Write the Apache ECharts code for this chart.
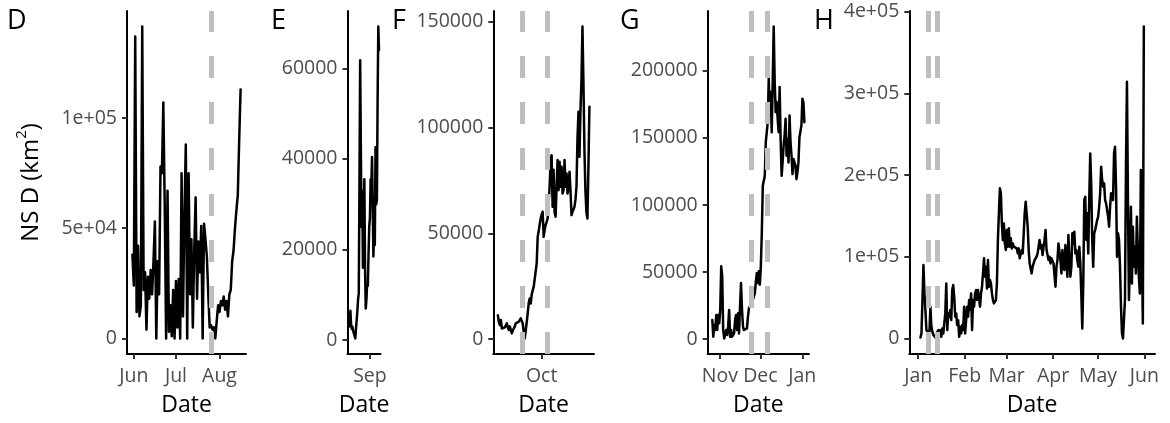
<!DOCTYPE html>
<html>
<head>
<meta charset="utf-8">
<script src="https://cdn.jsdelivr.net/npm/echarts@6/dist/echarts.min.js"></script>
<style>
  html, body { margin: 0; padding: 0; background: #fff; }
  #chart { width: 1170px; height: 423px; }
</style>
</head>
<body>
<div id="chart"></div>
<script>
// ---- Data: net squared displacement (km^2) per tracking period ----

// D: 31 May - 16 Aug 2018, daily fixes
const dStart = '2018-05-31T00:00:00Z';
const dStepHours = 24;
const dValues = [38000, 24000, 137000, 12000, 42000, 10000, 15000, 141500, 22000, 30000,
  4000, 28000, 18000, 31000, 20000, 35000, 53000, 0, 35000, 20000,
  78000, 75000, 107000, 60000, 0, 67000, 3000, 15000, 1000, 22000,
  0, 26000, 5000, 27000, 0, 75000, 10000, 55000, 88000, 0,
  75000, 20000, 45000, 5000, 40000, 64000, 18000, 44000, 30000, 51000,
  0, 52000, 45000, 37000, 20000, 5000, 6000, 4000, 5000, 0,
  8000, 15000, 12000, 17000, 15000, 19000, 13000, 17000, 10000, 20000,
  22000, 35000, 40000, 50000, 58000, 65000, 90000, 113000];
const dEvents = ['2018-07-26T00:00:00Z'];
const dMonthTicks = ['2018-06-01T00:00:00Z', '2018-07-01T00:00:00Z', '2018-08-01T00:00:00Z'];
const dYTicks = [0, 50000, 100000];
const dYLabels = ['0', '5e+04', '1e+05'];

// E: 17 Aug - 7 Sep 2018, 12-hourly fixes
const eStart = '2018-08-17T00:00:00Z';
const eStepHours = 12;
const eValues = [3000, 4000, 6500, 3500, 2500, 3000, 2000, 1500, 1000, 400,
  2500, 4400, 6500, 9000, 10300, 35000, 61800, 42000, 25000, 33000,
  16000, 24000, 35500, 16000, 7000, 9000, 12500, 12000, 19000, 25000,
  27000, 35500, 34000, 40400, 30000, 18500, 25000, 21000, 42600, 30000,
  31000, 52900, 69200, 64000];
const eEvents = [];
const eMonthTicks = ['2018-09-01T00:00:00Z'];
const eYTicks = [0, 20000, 40000, 60000];
const eYLabels = ['0', '20000', '40000', '60000'];

// F: 9 Sep - 25 Oct 2018, 12-hourly fixes
const fStart = '2018-09-09T00:00:00Z';
const fStepHours = 12;
const fValues = [11300, 8000, 6600, 9000, 5000, 4500, 4300, 5500, 5800, 7400,
  5500, 4300, 6000, 6600, 2700, 4000, 5000, 6000, 7400, 7000,
  8000, 8200, 9000, 9800, 8500, 7400, 3000, 300, 1100, 8000,
  12100, 17000, 19200, 16800, 21000, 23100, 24700, 25000, 25500, 35700,
  48300, 51000, 54000, 57000, 59000, 60200, 48300, 51500, 54000, 55400,
  57000, 57800, 72000, 84600, 86900, 62500, 80000, 60000, 57800, 72000,
  84600, 70400, 83800, 72000, 81400, 68800, 70400, 84600, 72000, 78300,
  68800, 72000, 79100, 70000, 58600, 60200, 61000, 62500, 66000, 72000,
  95000, 107400, 86200, 108200, 122400, 147700, 120800, 89300, 70000, 60000,
  57000, 81400, 109800];
const fEvents = ['2018-09-21T00:00:00Z', '2018-10-04T00:00:00Z'];
const fMonthTicks = ['2018-10-01T00:00:00Z'];
const fYTicks = [0, 50000, 100000, 150000];
const fYLabels = ['0', '50000', '100000', '150000'];

// G: 26 Oct 2018 - 2 Jan 2019
const gStart = '2018-10-26T09:00:00Z';
const gStepHours = 17.6;
const gValues = [14250, 1750, 10500, 6750, 18000, 6750, 18000, 11750, 21750,
  54250, 46750, 6750, 500, 1750, 6750, 3000, 9250, 21750, 1750,
  6750, 1750, 500, 4250, 14250, 18000, 6750, 19250, 4250, 24250,
  41750, 21750, 9250, 6750, 5500, 8000, 8000, 16750, 23000, 23000,
  24250, 26750, 28000, 31750, 34250, 43000, 49250, 41750, 50500, 40500,
  54250, 79250, 114250, 118000, 121750, 146750, 154250, 161750, 194250, 166750,
  184250, 154250, 191750, 233000, 191750, 169250, 176750, 164250, 154250, 188000,
  149250, 121750, 131750, 144250, 151750, 164250, 136750, 149250, 131750, 166750,
  146750, 136750, 123000, 134250, 131750, 129250, 119250, 124250, 131750, 150500,
  151750, 159250, 179250, 176750, 161750];
const gEvents = ['2018-11-24T00:00:00Z', '2018-12-06T00:00:00Z'];
const gMonthTicks = ['2018-11-01T00:00:00Z', '2018-12-01T00:00:00Z', '2019-01-01T00:00:00Z'];
const gYTicks = [0, 50000, 100000, 150000, 200000];
const gYLabels = ['0', '50000', '100000', '150000', '200000'];

// H: 2 Jan - 31 May 2019
const hStart = '2019-01-02T13:00:00Z';
const hStepHours = 15.9;
const hValues = [1200, 6100, 47000, 89800, 55100, 34700, 10200, 8200, 8200, 6100,
  38800, 14300, 8200, 4100, 2000, 1200, 6100, 8200, 10200, 6100,
  10200, 2000, 12200, 6100, 18400, 30600, 67300, 10200, 30600, 26500,
  34700, 22400, 59200, 65300, 51000, 26500, 30600, 16300, 22400, 2000,
  14300, 6100, 16300, 10200, 38800, 6100, 22400, 38800, 26500, 47000,
  34700, 55100, 10200, 47000, 38800, 55100, 59200, 47000, 59200, 59200,
  38800, 55100, 63300, 79600, 98000, 75500, 87800, 61200, 95900, 63300,
  71400, 67300, 55100, 47000, 42900, 40800, 47000, 67300, 120400, 153100,
  183700, 177600, 140800, 120400, 140800, 116300, 108200, 132700, 112300, 134700,
  112300, 122500, 110200, 116300, 112300, 110200, 114300, 110200, 104100, 110200,
  98000, 104100, 108200, 104100, 128600, 153100, 167400, 165300, 136800, 108200,
  91800, 85700, 79600, 87800, 91800, 95900, 98000, 100000, 104100, 112300,
  120400, 110200, 114300, 102000, 112300, 120400, 132700, 108200, 102000, 95900,
  100000, 91800, 98000, 95900, 91800, 77600, 63300, 87800, 95900, 116300,
  118400, 95900, 79600, 108200, 91800, 83700, 114300, 95900, 75500, 126500,
  98000, 75500, 87800, 128600, 116300, 130600, 104100, 108200, 95900, 87800,
  112300, 91800, 55100, 12200, 67300, 169400, 173500, 120400, 153100, 104100,
  169400, 226500, 189800, 120400, 87800, 128600, 132700, 132700, 144900, 149000,
  161200, 177600, 210200, 193900, 185700, 189800, 169400, 165300, 157100, 149000,
  136800, 161200, 177600, 177600, 169400, 226500, 234700, 185700, 100000, 128600,
  120400, 87800, 38800, 6100, 0, 2000, 47000, 210200, 314300, 169400,
  47000, 95900, 161200, 67300, 136800, 87800, 112300, 79600, 149000, 108200,
  75500, 55100, 206200, 204100, 18400, 381700];
const hEvents = ['2019-01-08T00:00:00Z', '2019-01-14T00:00:00Z'];
const hMonthTicks = ['2019-01-01T00:00:00Z', '2019-02-01T00:00:00Z', '2019-03-01T00:00:00Z',
  '2019-04-01T00:00:00Z', '2019-05-01T00:00:00Z', '2019-06-01T00:00:00Z'];
const hYTicks = [0, 100000, 200000, 300000, 400000];
const hYLabels = ['0', '1e+05', '2e+05', '3e+05', '4e+05'];

const MONTH_NAMES = ['Jan', 'Feb', 'Mar', 'Apr', 'May', 'Jun', 'Jul', 'Aug', 'Sep', 'Oct', 'Nov', 'Dec'];

// ---- Layout ----
const FONT = '"Open Sans", "Noto Sans", sans-serif';
const PLOT_TOP = 11;
const PLOT_HEIGHT = 343;
const layout = [
  { letterX: 7,   left: 127,   width: 119 },
  { letterX: 271, left: 347.5, width: 33 },
  { letterX: 392, left: 493.3, width: 100.7 },
  { letterX: 620, left: 707.7, width: 101.3 },
  { letterX: 814, left: 909.3, width: 245.7 }
];

const panels = [
  { letter: 'D', start: dStart, step: dStepHours, values: dValues, events: dEvents, xTicks: dMonthTicks, yTicks: dYTicks, yLabels: dYLabels },
  { letter: 'E', start: eStart, step: eStepHours, values: eValues, events: eEvents, xTicks: eMonthTicks, yTicks: eYTicks, yLabels: eYLabels },
  { letter: 'F', start: fStart, step: fStepHours, values: fValues, events: fEvents, xTicks: fMonthTicks, yTicks: fYTicks, yLabels: fYLabels },
  { letter: 'G', start: gStart, step: gStepHours, values: gValues, events: gEvents, xTicks: gMonthTicks, yTicks: gYTicks, yLabels: gYLabels },
  { letter: 'H', start: hStart, step: hStepHours, values: hValues, events: hEvents, xTicks: hMonthTicks, yTicks: hYTicks, yLabels: hYLabels }
];

const HOUR = 3600 * 1000;
function toPoints(start, stepHours, values) {
  const t0 = Date.parse(start);
  return values.map((v, i) => [t0 + i * stepHours * HOUR, v]);
}
// 5% padding on each side of the data range
function expand(lo, hi) {
  const pad = (hi - lo) * 0.05;
  return [lo - pad, hi + pad];
}

const axisLine = { show: true, onZero: false, lineStyle: { color: '#000', width: 2 } };
const tickStyle = { color: '#333', width: 2 };
const tickLabel = { color: '#4D4D4D', fontSize: 19.5, fontFamily: FONT };

const grids = [], xAxes = [], yAxes = [], series = [], titles = [];

panels.forEach((p, i) => {
  const pts = toPoints(p.start, p.step, p.values);
  const xRange = expand(pts[0][0], pts[pts.length - 1][0]);
  const yRange = expand(Math.min(...p.values), Math.max(...p.values));
  const xTickVals = p.xTicks.map(s => Date.parse(s));
  const L = layout[i];

  grids.push({ left: L.left, top: PLOT_TOP, width: L.width, height: PLOT_HEIGHT, containLabel: false, outerBoundsMode: 'none' });

  titles.push({
    text: p.letter, left: L.letterX, top: 8, padding: 0,
    textStyle: { fontSize: 27, fontWeight: 'normal', color: '#000', fontFamily: FONT }
  });

  xAxes.push({
    type: 'value', gridIndex: i, min: xRange[0], max: xRange[1],
    axisLine: axisLine,
    axisTick: { show: true, length: 5, customValues: xTickVals, lineStyle: tickStyle },
    axisLabel: Object.assign({
      customValues: xTickVals, margin: 12,
      formatter: v => MONTH_NAMES[new Date(v).getUTCMonth()]
    }, tickLabel),
    splitLine: { show: false },
    name: 'Date', nameLocation: 'middle', nameGap: 40,
    nameTextStyle: { fontSize: 23, color: '#000', fontFamily: FONT }
  });

  const yAxis = {
    type: 'value', gridIndex: i, min: yRange[0], max: yRange[1],
    axisLine: axisLine,
    axisTick: { show: true, length: 5, customValues: p.yTicks, lineStyle: tickStyle },
    axisLabel: Object.assign({
      customValues: p.yTicks, margin: 10,
      formatter: v => p.yLabels[p.yTicks.indexOf(v)]
    }, tickLabel),
    splitLine: { show: false }
  };
  if (i === 0) {
    Object.assign(yAxis, {
      name: 'NS D (km{sup|2})', nameLocation: 'middle', nameRotate: 90, nameGap: 79,
      nameTextStyle: {
        fontSize: 24, color: '#000', fontFamily: FONT, lineHeight: 34,
        rich: { sup: { fontSize: 15, lineHeight: 15, verticalAlign: 'top', color: '#000', fontFamily: FONT } }
      }
    });
  }
  yAxes.push(yAxis);

  series.push({
    type: 'line', xAxisIndex: i, yAxisIndex: i, data: pts,
    showSymbol: false, symbol: 'none', silent: true,
    lineStyle: { color: '#000', width: 2.5, join: 'round', cap: 'round' },
    markLine: {
      silent: true, symbol: ['none', 'none'], animation: false, z: 5,
      label: { show: false },
      lineStyle: { color: '#BEBEBE', width: 5, type: [22, 24], cap: 'butt' },
      emphasis: { disabled: true },
      data: p.events.map(d => ({ xAxis: Date.parse(d) }))
    }
  });
});

const chart = echarts.init(document.getElementById('chart'), null, { renderer: 'canvas' });
chart.setOption({
  animation: false,
  backgroundColor: '#fff',
  textStyle: { fontFamily: FONT },
  title: titles,
  grid: grids,
  xAxis: xAxes,
  yAxis: yAxes,
  series: series
});
</script>
</body>
</html>
